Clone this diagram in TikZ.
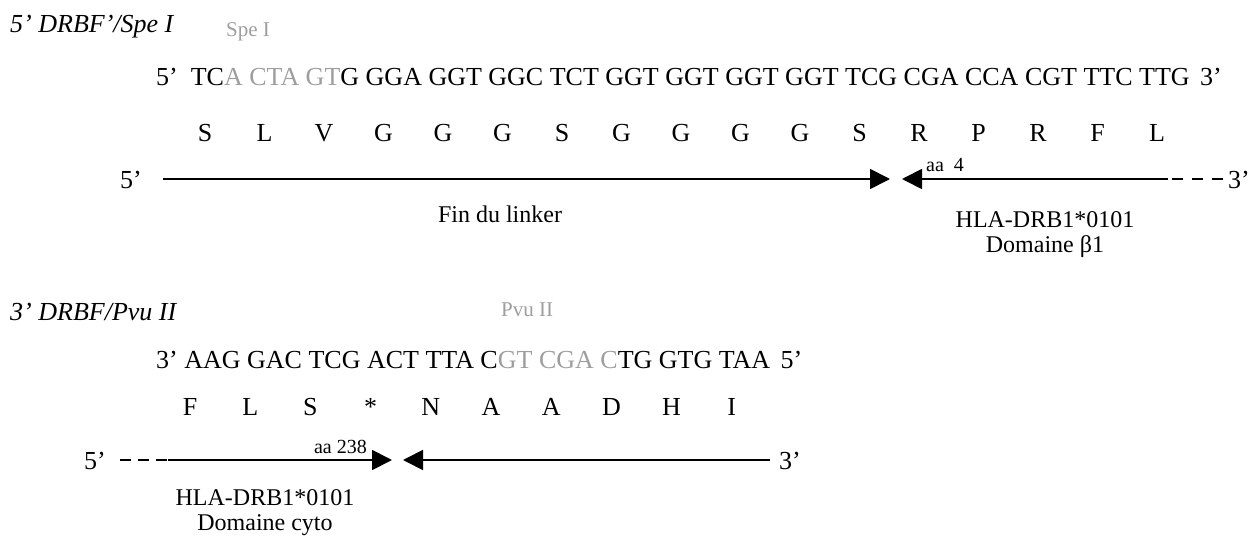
\documentclass[tikz,border=0pt]{standalone}
\usepackage{fontspec}
\setmainfont{Liberation Serif}
\usetikzlibrary{arrows.meta}
\definecolor{sitegray}{gray}{0.62}
\tikzset{
  x=1pt, y=-1pt,
  txt/.style={inner sep=0pt, font=\fontsize{26}{28}\selectfont},
  lbl/.style={inner sep=0pt, font=\fontsize{24}{26}\selectfont},
  ttl/.style={inner sep=0pt, anchor=west, font=\fontsize{26}{28}\selectfont\itshape},
  site/.style={inner sep=0pt, anchor=west, text=sitegray, font=\fontsize{21}{23}\selectfont},
  small/.style={inner sep=0pt, font=\fontsize{20}{22}\selectfont},
  strand/.style={line width=1.8pt},
  tip/.style={strand, -{Triangle[length=20pt,width=20pt]}},
  dash3/.style={line width=1.8pt, dash pattern=on 11pt off 9pt},
}
\newcommand{\gr}[1]{{\color{sitegray}#1}}
\begin{document}
\begin{tikzpicture}
\useasboundingbox (0,0) rectangle (1251,540);

% ---------- 5' DRBF'/Spe I ----------
\node[ttl] (t1) at (10,27) {5’ DRBF’/Spe I};
\node[site] (spe) at (226,32) {Spe I};
\node[txt, anchor=west] (seq1) at (156,77)
  {5’\hspace{0.5em}TC\gr{A CTA GT}G GGA GGT GGC TCT GGT GGT GGT GGT TCG CGA CCA CGT TTC TTG\hspace{0.4em}3’};

\foreach \aa [count=\i from 0] in {S,L,V,G,G,G,S,G,G,G,G,S,R,P,R,F,L}
  \node[txt] (a\i) at ({205+59.5*\i},133) {\aa};

\node[txt] (p5a) at (131,180) {5’};
\node[txt] (p3a) at (1239,180) {3’};
\coordinate (l1s) at (163,179);
\coordinate (l1e) at (890,179);
\coordinate (r1e) at (902,179);
\coordinate (r1s) at (1168,179);
\coordinate (d1s) at (1172,179);
\coordinate (d1e) at (1223,179);
\draw[tip] (l1s) -- (l1e);
\draw[tip] (r1s) -- (r1e);
\draw[dash3] (d1s) -- (d1e);
\node[small, anchor=south west] (aa4) at (926,172) {aa\hspace{0.5em}4};

\node[lbl] (fin) at (500,214) {Fin du linker};
\node[lbl] (hla1) at (1045,220) {HLA-DRB1*0101};
\node[lbl] (dom1) at (1045,247) {Domaine β1};

% ---------- 3' DRBF/Pvu II ----------
\node[ttl] (t2) at (10,312) {3’ DRBF/Pvu II};
\node[site] (pvu) at (501,310) {Pvu II};
\node[txt, anchor=west] (seq2) at (156,360)
  {3’ AAG GAC TCG ACT TTA C\gr{GT CGA C}TG GTG TAA\hspace{0.4em}5’};

\foreach \aa [count=\i from 0] in {F,L,S,*,N,A,A,D,H,I}
  \node[txt] (b\i) at ({190+60.2*\i},407) {\aa};

\node[txt] (p5b) at (95,461) {5’};
\node[txt] (p3b) at (790,461) {3’};
\coordinate (d2s) at (120,460);
\coordinate (l2s) at (168,460);
\coordinate (l2e) at (392,460);
\coordinate (r2e) at (403,460);
\coordinate (r2s) at (770,460);
\draw[dash3, dash pattern=on 11pt off 7pt] (d2s) -- (l2s);
\draw[tip] (l2s) -- (l2e);
\draw[tip] (r2s) -- (r2e);
\node[small, anchor=south east] (aa238) at (367,454) {aa 238};

\node[lbl] (hla2) at (265,498) {HLA-DRB1*0101};
\node[lbl] (dom2) at (265,525) {Domaine cyto};
\end{tikzpicture}
\end{document}
